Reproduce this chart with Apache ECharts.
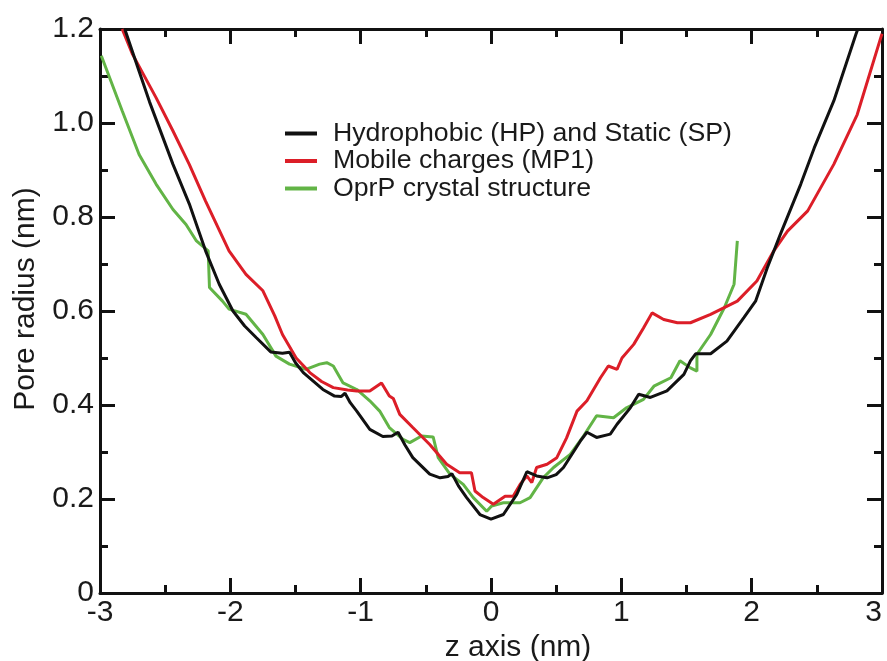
<!DOCTYPE html>
<html>
<head>
<meta charset="utf-8">
<title>Pore radius profile</title>
<script src="https://cdn.jsdelivr.net/npm/echarts@6/dist/echarts.min.js"></script>
<style>
    html, body { margin: 0; padding: 0; background: #fff; }
    #chart { width: 887px; height: 661px; }
</style>
</head>
<body>
<div id="chart"></div>
<script>
// 读图得到的数据 (z 单位 nm, r 单位 nm)
const xTicks = [-3, -2, -1, 0, 1, 2, 3];
const yTicks = [0, 0.2, 0.4, 0.6, 0.8, 1.0, 1.2];
const seriesNames = ['Hydrophobic (HP) and Static (SP)', 'Mobile charges (MP1)', 'OprP crystal structure'];

const hpZ = [-2.81, -2.70, -2.62, -2.44, -2.315, -2.19, -2.085, -1.98, -1.89, -1.80, -1.69, -1.60, -1.546, -1.50, -1.44, -1.29,
    -1.20, -1.15, -1.12, -1.08, -1.03, -0.93, -0.83, -0.76, -0.713, -0.66, -0.60, -0.47, -0.39, -0.33, -0.30, -0.25,
    -0.187, -0.085, 0.0, 0.095, 0.198, 0.275, 0.35, 0.43, 0.50, 0.556, 0.685, 0.736, 0.81, 0.915, 0.967, 1.069, 1.133,
    1.223, 1.35, 1.48, 1.53, 1.57, 1.685, 1.81, 1.94, 2.03, 2.12, 2.22, 2.377, 2.48, 2.63, 2.80, 2.815];
const hpR = [1.20, 1.11, 1.045, 0.912, 0.828, 0.728, 0.657, 0.600, 0.568, 0.543, 0.513, 0.510, 0.512, 0.490, 0.469, 0.433,
    0.419, 0.418, 0.425, 0.405, 0.387, 0.348, 0.333, 0.334, 0.342, 0.315, 0.288, 0.253, 0.245, 0.248, 0.254, 0.228,
    0.203, 0.167, 0.157, 0.167, 0.210, 0.258, 0.249, 0.245, 0.252, 0.267, 0.323, 0.342, 0.331, 0.338, 0.359, 0.394, 0.423,
    0.416, 0.430, 0.465, 0.494, 0.509, 0.509, 0.536, 0.586, 0.621, 0.692, 0.763, 0.870, 0.947, 1.047, 1.189, 1.20];

const mpZ = [-2.83, -2.75, -2.57, -2.44, -2.315, -2.19, -2.01, -1.88, -1.75, -1.66, -1.60, -1.495, -1.39, -1.30, -1.21, -1.10,
    -1.03, -0.93, -0.84, -0.78, -0.75, -0.70, -0.60, -0.47, -0.34, -0.24, -0.15, -0.123, -0.06, 0.018, 0.108, 0.17,
    0.223, 0.275, 0.313, 0.35, 0.43, 0.505, 0.58, 0.66, 0.736, 0.84, 0.90, 0.967, 1.005, 1.095, 1.17, 1.236, 1.325,
    1.43, 1.53, 1.685, 1.89, 2.04, 2.17, 2.275, 2.43, 2.63, 2.81, 2.99, 3.0];
const mpR = [1.20, 1.146, 1.054, 0.983, 0.912, 0.834, 0.728, 0.678, 0.643, 0.590, 0.550, 0.500, 0.469, 0.450, 0.437, 0.432,
    0.430, 0.430, 0.447, 0.419, 0.414, 0.380, 0.352, 0.316, 0.274, 0.256, 0.256, 0.217, 0.203, 0.189, 0.206, 0.206,
    0.231, 0.249, 0.235, 0.267, 0.274, 0.288, 0.330, 0.387, 0.409, 0.458, 0.483, 0.476, 0.500, 0.529, 0.564, 0.596, 0.582,
    0.575, 0.575, 0.593, 0.621, 0.664, 0.728, 0.770, 0.813, 0.912, 1.018, 1.181, 1.19];

const oprZ = [-2.99, -2.83, -2.70, -2.57, -2.44, -2.34, -2.26, -2.17, -2.16, -2.06, -2.01, -1.88, -1.75, -1.65, -1.546, -1.42,
    -1.315, -1.26, -1.21, -1.135, -1.03, -0.93, -0.854, -0.78, -0.675, -0.623, -0.533, -0.444, -0.405, -0.315, -0.213,
    -0.136, -0.033, 0.005, 0.095, 0.223, 0.30, 0.40, 0.48, 0.608, 0.71, 0.81, 0.94, 1.04, 1.17, 1.25, 1.38, 1.45, 1.53,
    1.58, 1.58, 1.685, 1.79, 1.865, 1.89];
const oprR = [1.143, 1.026, 0.933, 0.870, 0.816, 0.784, 0.749, 0.728, 0.650, 0.621, 0.604, 0.593, 0.550, 0.504, 0.487, 0.476,
    0.487, 0.490, 0.483, 0.447, 0.433, 0.409, 0.387, 0.352, 0.327, 0.320, 0.334, 0.332, 0.288, 0.253, 0.231,
    0.203, 0.174, 0.185, 0.192, 0.192, 0.203, 0.245, 0.267, 0.295, 0.334, 0.377, 0.373, 0.394, 0.412, 0.440, 0.458, 0.494, 0.479,
    0.472, 0.508, 0.550, 0.607, 0.657, 0.749];

const lineColors = ['#111111', '#dc1e28', '#62b446'];
const fontFamily = '"Liberation Sans", Arial, Helvetica, sans-serif';

function zip (xs, ys) {
    return xs.map((x, i) => [x, ys[i]]);
}

// 坐标轴公共样式 (刻度朝内, 四边框)
const axisLineStyle = { color: '#111', width: 3 };
const tickStyle = {
    show: true,
    inside: true,
    length: 15,
    lineStyle: { color: '#111', width: 3 }
};
const minorTickStyle = {
    show: true,
    splitNumber: 2,
    length: 8,
    lineStyle: { color: '#111', width: 3 }
};

const xBase = {
    type: 'value',
    min: xTicks[0],
    max: xTicks[xTicks.length - 1],
    interval: 1,
    axisLine: { show: true, onZero: false, lineStyle: axisLineStyle },
    axisTick: tickStyle,
    minorTick: minorTickStyle,
    splitLine: { show: false }
};
const yBase = {
    type: 'value',
    min: yTicks[0],
    max: yTicks[yTicks.length - 1],
    interval: 0.2,
    axisLine: { show: true, onZero: false, lineStyle: axisLineStyle },
    axisTick: tickStyle,
    minorTick: minorTickStyle,
    splitLine: { show: false }
};

const option = {
    animation: false,
    backgroundColor: '#fff',
    color: lineColors,
    textStyle: { fontFamily: fontFamily, color: '#1a1a1a' },
    grid: {
        left: 100,
        right: 5,
        top: 29,
        bottom: 68,
        containLabel: false,
        outerBoundsMode: 'none'
    },
    legend: {
        data: seriesNames,
        orient: 'vertical',
        left: 285,
        top: 120,
        padding: 0,
        icon: 'rect',
        itemWidth: 32,
        itemHeight: 4,
        itemGap: 0.5,
        selectedMode: false,
        textStyle: {
            fontFamily: fontFamily,
            fontSize: 26.7,
            lineHeight: 19,
            color: '#1a1a1a',
            padding: [0, 0, 8, 11]
        }
    },
    xAxis: [
        Object.assign({}, xBase, {
            position: 'bottom',
            name: 'z axis (nm)',
            nameLocation: 'middle',
            nameGap: 38,
            nameTextStyle: { fontFamily: fontFamily, fontSize: 30, color: '#1a1a1a', padding: [0, 0, 0, 54] },
            axisLabel: {
                margin: 5,
                fontSize: 30,
                fontFamily: fontFamily,
                color: '#1a1a1a',
                alignMaxLabel: 'right',
                formatter: v => String(v)
            }
        }),
        Object.assign({}, xBase, {
            position: 'top',
            axisLabel: { show: false }
        })
    ],
    yAxis: [
        Object.assign({}, yBase, {
            position: 'left',
            name: 'Pore radius (nm)',
            nameLocation: 'middle',
            nameGap: 59,
            nameTextStyle: { fontFamily: fontFamily, fontSize: 30, color: '#1a1a1a', padding: [0, 0, 0, 24] },
            axisLabel: {
                margin: 6,
                fontSize: 30,
                fontFamily: fontFamily,
                color: '#1a1a1a',
                padding: [0, 0, 6, 0],
                formatter: v => (v === 0 ? '0' : v.toFixed(1))
            }
        }),
        Object.assign({}, yBase, {
            position: 'right',
            axisLabel: { show: false }
        })
    ],
    series: [
        { name: seriesNames[0], data: zip(hpZ, hpR) },
        { name: seriesNames[1], data: zip(mpZ, mpR) },
        { name: seriesNames[2], data: zip(oprZ, oprR) }
    ].map((s, i) => Object.assign({
        type: 'line',
        xAxisIndex: 0,
        yAxisIndex: 0,
        showSymbol: false,
        symbol: 'none',
        clip: true,
        z: 3 - i,
        lineStyle: { width: 3, color: lineColors[i] }
    }, s))
};

const myChart = echarts.init(document.getElementById('chart'), null, { renderer: 'canvas' });
myChart.setOption(option);
</script>
</body>
</html>
